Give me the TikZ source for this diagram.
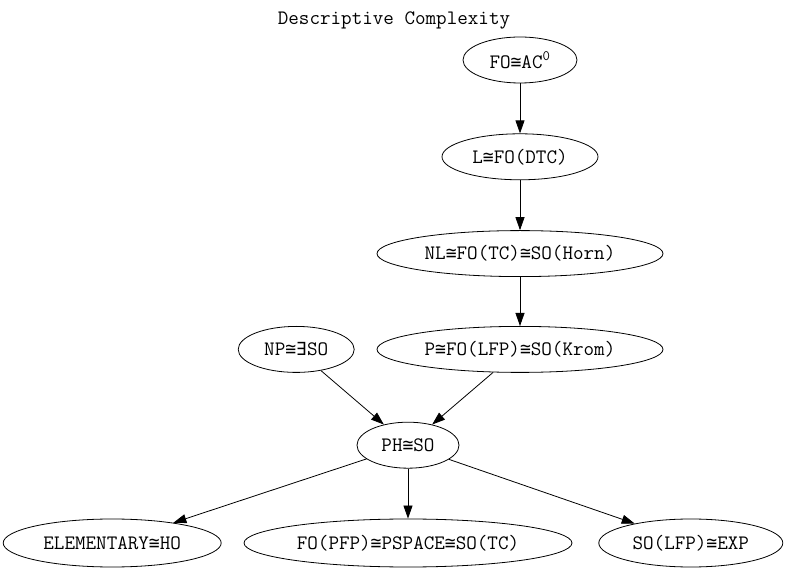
\documentclass[tikz,border=0pt]{standalone}
\usepackage{fontspec}
\usepackage{tikz}
\usetikzlibrary{shapes.geometric, arrows.meta, positioning}
\newfontfamily\symfont[Scale=0.88]{DejaVu Sans Mono}
\newcommand{\isom}{{\symfont ≅}}
\newcommand{\exi}{{\symfont ∃}}

\begin{document}
\begin{tikzpicture}[
    x=1pt, y=-1pt,
    node distance=50pt and 22pt,
    class/.style={ellipse, draw, thick, inner sep=0pt, minimum height=46pt, text centered, font=\ttfamily\fontsize{20.5}{24}\selectfont},
    arrow/.style={thick,-{Triangle[length=13pt,width=9pt]}},
    titletext/.style={font=\ttfamily\fontsize{20.5}{24}\selectfont}
]
\useasboundingbox (0,0) rectangle (788,569);
\node (title) [titletext] at (394,20) {Descriptive Complexity};
\node (fo) [class, minimum width=114pt] at (520,60) {FO\isom AC\textsuperscript{0}};
\node (l) [class, minimum width=156pt, below=of fo] {L\isom FO(DTC)};
\node (nl) [class, minimum width=286pt, below=of l] {NL\isom FO(TC)\isom SO(Horn)};
\node (p) [class, minimum width=286pt, below=49pt of nl] {P\isom FO(LFP)\isom SO(Krom)};
\node (np) [class, minimum width=116pt, left=of p] {NP\isom\exi SO};
\node (ph) [class, minimum width=102pt, below=49pt of p, xshift=-112pt] {PH\isom SO};
\node (pspace) [class, minimum width=328pt, minimum height=48pt, below=of ph] {FO(PFP)\isom PSPACE\isom SO(TC)};
\node (elem) [class, minimum width=218pt, minimum height=48pt, left=of pspace] {ELEMENTARY\isom HO};
\node (exp) [class, minimum width=184pt, minimum height=48pt, right=26pt of pspace] {SO(LFP)\isom EXP};

\draw [arrow] (fo) -- (l);
\draw [arrow] (l) -- (nl);
\draw [arrow] (nl) -- (p);
\draw [arrow] (np) -- (ph);
\draw [arrow] (p) -- (ph);
\draw [arrow] (ph) -- (elem);
\draw [arrow] (ph) -- (pspace);
\draw [arrow] (ph) -- (exp);
\end{tikzpicture}
\end{document}
